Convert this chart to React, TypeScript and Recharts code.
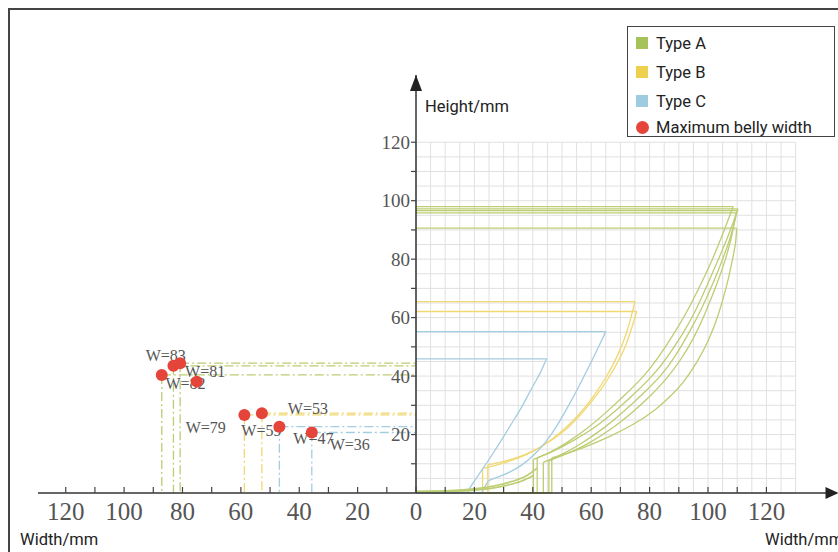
import { ComposedChart, Line, Scatter, XAxis, YAxis, ReferenceLine, ReferenceDot } from "recharts"

// vessel profiles (x = half width mm, y = height mm)
const typeA1 = [
  { x: 0, y: 0 }, { x: 40.2, y: 0 }, { x: 40.2, y: 11.5 }, { x: 46, y: 14 }, { x: 52, y: 17.5 },
  { x: 58.4, y: 22 }, { x: 65, y: 27.5 }, { x: 71.5, y: 33.5 }, { x: 77.9, y: 40 }, { x: 83, y: 46.5 },
  { x: 88, y: 54 }, { x: 93, y: 62.5 }, { x: 97.8, y: 72 }, { x: 101.5, y: 80 }, { x: 105, y: 88.5 },
  { x: 108.6, y: 98 }, { x: 0, y: 98 },
]
const typeA2 = [
  { x: 0, y: 0 }, { x: 41.5, y: 0 }, { x: 41.5, y: 12 }, { x: 47, y: 14.3 }, { x: 54, y: 18 },
  { x: 61.9, y: 23 }, { x: 68.5, y: 28.3 }, { x: 75, y: 34.2 }, { x: 81.3, y: 40.6 }, { x: 86, y: 46.5 },
  { x: 91, y: 54 }, { x: 95.5, y: 62 }, { x: 100.1, y: 72 }, { x: 103.8, y: 80.5 }, { x: 107.2, y: 88.8 },
  { x: 110.3, y: 97.2 }, { x: 0, y: 97.2 },
]
const typeA3 = [
  { x: 0, y: 0 }, { x: 43.6, y: 0 }, { x: 43.6, y: 10.5 }, { x: 49, y: 12.8 }, { x: 56, y: 16.6 },
  { x: 64.2, y: 22.2 }, { x: 71, y: 27.8 }, { x: 77.5, y: 33.8 }, { x: 83.6, y: 40 }, { x: 88.5, y: 46.5 },
  { x: 93, y: 54 }, { x: 97.5, y: 62.5 }, { x: 101.8, y: 72 }, { x: 105, y: 80 }, { x: 107.8, y: 88 },
  { x: 110, y: 96.6 }, { x: 0, y: 96.6 },
]
const typeA4 = [
  { x: 0, y: 0 }, { x: 45.5, y: 0 }, { x: 45.5, y: 11 }, { x: 51, y: 13.2 }, { x: 59, y: 17 },
  { x: 67.6, y: 22.5 }, { x: 74, y: 27.5 }, { x: 80.5, y: 33.5 }, { x: 85.8, y: 39.2 }, { x: 90.5, y: 45.5 },
  { x: 95, y: 53 }, { x: 99, y: 61.5 }, { x: 103, y: 71.5 }, { x: 105.8, y: 79.5 }, { x: 108, y: 87.5 },
  { x: 109.6, y: 95.8 }, { x: 0, y: 95.8 },
]
const typeA5 = [
  { x: 0, y: 0 }, { x: 46.5, y: 0 }, { x: 46.5, y: 12 }, { x: 51, y: 13.3 }, { x: 58, y: 15.8 },
  { x: 66, y: 19.2 }, { x: 74.4, y: 23.5 }, { x: 82, y: 28.6 }, { x: 87.5, y: 33.5 }, { x: 91.6, y: 38 },
  { x: 96, y: 44.5 }, { x: 100, y: 52 }, { x: 103.5, y: 61 }, { x: 106.4, y: 71 }, { x: 108.3, y: 79.5 },
  { x: 109.4, y: 85.5 }, { x: 109.8, y: 90.6 }, { x: 0, y: 90.6 },
]
const baseA1 = [
  { x: 0, y: 0.4 }, { x: 10, y: 0.5 }, { x: 18, y: 0.8 }, { x: 25, y: 1.5 }, { x: 31, y: 2.6 },
  { x: 36, y: 4 }, { x: 40.2, y: 6 },
]
const baseA2 = [
  { x: 0, y: 0.6 }, { x: 12, y: 0.8 }, { x: 20, y: 1.4 }, { x: 27, y: 2.5 }, { x: 33, y: 4 },
  { x: 38, y: 6 }, { x: 41.5, y: 8.5 },
]
const typeB1 = [
  { x: 0, y: 0 }, { x: 22.8, y: 0 }, { x: 22.8, y: 8.4 }, { x: 27, y: 9.4 }, { x: 32, y: 10.9 },
  { x: 37.9, y: 13.2 }, { x: 44, y: 16.6 }, { x: 49.3, y: 20.6 }, { x: 55, y: 26 }, { x: 60.7, y: 33 },
  { x: 65, y: 39.5 }, { x: 69, y: 47 }, { x: 72.3, y: 55.5 }, { x: 75, y: 65.5 }, { x: 0, y: 65.5 },
]
const typeB2 = [
  { x: 0, y: 0 }, { x: 24.6, y: 0 }, { x: 24.6, y: 9.6 }, { x: 30, y: 10.8 }, { x: 35, y: 12.3 },
  { x: 40.2, y: 14.4 }, { x: 46, y: 17.8 }, { x: 51.6, y: 22 }, { x: 57, y: 27.5 }, { x: 63, y: 35 },
  { x: 67.5, y: 42 }, { x: 71.8, y: 50.5 }, { x: 75.6, y: 62.1 }, { x: 0, y: 62.1 },
]
const typeC1 = [
  { x: 0, y: 0 }, { x: 17.5, y: 0 }, { x: 19, y: 2.6 }, { x: 20.8, y: 5.3 }, { x: 23, y: 8.5 },
  { x: 26, y: 13 }, { x: 29.5, y: 18.5 }, { x: 33, y: 24.2 }, { x: 36.5, y: 30 }, { x: 40, y: 36.5 },
  { x: 42.5, y: 41 }, { x: 44.7, y: 45.9 }, { x: 0, y: 45.9 },
]
const typeC2 = [
  { x: 0, y: 0 }, { x: 22.5, y: 0 }, { x: 23.5, y: 2 }, { x: 24.8, y: 4.2 }, { x: 28, y: 5.4 },
  { x: 32.2, y: 7.2 }, { x: 36.5, y: 9.8 }, { x: 40.5, y: 13.2 }, { x: 44.5, y: 17.6 }, { x: 48, y: 22.6 },
  { x: 51.6, y: 28.8 }, { x: 55, y: 35 }, { x: 58.5, y: 41.8 }, { x: 61.8, y: 48.5 }, { x: 65, y: 55.2 },
  { x: 0, y: 55.2 },
]

// maximum belly width points, left (mirrored) side
const bellyPoints = [
  { x: 87.1, y: 40.4, label: "W=83", type: "A", guide: true },
  { x: 83.1, y: 43.5, label: "W=82", type: "A", guide: true },
  { x: 80.8, y: 44.4, label: "W=81", type: "A", guide: true },
  { x: 75.1, y: 38.1, label: "W=79", type: "A", guide: false },
  { x: 58.8, y: 26.7, label: "W=59", type: "B", guide: true },
  { x: 52.8, y: 27.3, label: "W=53", type: "B", guide: true },
  { x: 46.8, y: 22.7, label: "W=47", type: "C", guide: true },
  { x: 35.7, y: 20.7, label: "W=36", type: "C", guide: true },
]
const labelShift: Record<string, [number, number]> = {
  "W=83": [4, -20], "W=82": [12, 18], "W=81": [25, 8], "W=79": [9, 46],
  "W=59": [17, 15], "W=53": [46, -5], "W=47": [34, 12], "W=36": [38, 12],
}

const rightTicks = [0, 10, 20, 30, 40, 50, 60, 70, 80, 90, 100, 110, 120]
const leftTicks = [10, 20, 30, 40, 50, 60, 70, 80, 90, 100, 110, 120]
const heightTicks = [10, 20, 30, 40, 50, 60, 70, 80, 90, 100, 110, 120]

const legendItems = [
  { name: "Type A", type: "A" },
  { name: "Type B", type: "B" },
  { name: "Type C", type: "C" },
]

const lineColor: Record<string, string> = { A: "#bccd72", B: "#f0d873", C: "#a3cde0" }
const swatch: Record<string, string> = { A: "#a6c35a", B: "#efd04e", C: "#9ecbe0" }
const RED = "#e5443b"

// bodyFrom: index where the smooth wall starts (after base / foot)
const profiles = [
  { key: "a1", type: "A", pts: typeA1, bodyFrom: 2 }, { key: "a2", type: "A", pts: typeA2, bodyFrom: 2 },
  { key: "a3", type: "A", pts: typeA3, bodyFrom: 2 }, { key: "a4", type: "A", pts: typeA4, bodyFrom: 2 },
  { key: "a5", type: "A", pts: typeA5, bodyFrom: 2 }, { key: "b1", type: "B", pts: typeB1, bodyFrom: 2 },
  { key: "b2", type: "B", pts: typeB2, bodyFrom: 2 }, { key: "c1", type: "C", pts: typeC1, bodyFrom: 1 },
  { key: "c2", type: "C", pts: typeC2, bodyFrom: 3 },
]
const bases = [
  { key: "ba1", type: "A", pts: baseA1 },
  { key: "ba2", type: "A", pts: baseA2 },
]

const serif = "'Liberation Serif', 'DejaVu Serif', serif"
const sans = "Roboto, 'Noto Sans', sans-serif"
const gridXs = Array.from({ length: 27 }, (_, i) => i * 5)
const gridYs = Array.from({ length: 25 }, (_, i) => i * 5)

const X_MAX = 144
const Y_MAX = 143
const chartMargin = { top: 75, bottom: 19 }

function BottomTick(props: any) {
  const { x, y, payload } = props
  const v = payload.value
  return (
    <g>
      <line x1={x} x2={x} y1={y} y2={y - 6} stroke="#444" strokeWidth={1.2} />
      {v % 20 === 0 && (
        <text x={x} y={y + 27} textAnchor="middle" fontFamily={serif} fontSize={25} fill="#555">
          {v}
        </text>
      )}
    </g>
  )
}

const arrowRight = (p: any) => (
  <path d={`M${p.cx + 2},${p.cy} L${p.cx - 11},${p.cy - 6} L${p.cx - 11},${p.cy + 6} Z`} fill="#222" />
)
const arrowUp = (p: any) => (
  <path d={`M${p.cx},${p.cy} L${p.cx - 6},${p.cy + 16} L${p.cx + 6},${p.cy + 16} Z`} fill="#222" />
)

export default function App() {
  return (
    <div style={{ position: "absolute", left: 0, top: 0, width: 838, height: 552, background: "#fff", overflow: "hidden" }}>
      <div style={{ position: "absolute", left: 8, top: 8, width: 840, height: 560, borderTop: "2.5px solid #444", borderLeft: "2.5px solid #444" }} />

      {/* left mirrored side: belly width points */}
      <div style={{ position: "absolute", left: 0, top: 0 }}>
        <ComposedChart width={420} height={552} margin={{ ...chartMargin, left: 38, right: 4 }}>
          <XAxis
            type="number"
            dataKey="x"
            domain={[0, 129.5]}
            reversed
            ticks={leftTicks}
            interval={0}
            height={40}
            tickSize={0}
            tickMargin={0}
            tick={<BottomTick />}
            axisLine={{ stroke: "#333", strokeWidth: 1.5 }}
          />
          <YAxis type="number" dataKey="y" domain={[0, Y_MAX]} hide />
          {bellyPoints.filter((d) => d.guide).map((d) => (
            <ReferenceLine key={"v" + d.label} segment={[{ x: d.x, y: d.y }, { x: d.x, y: 0 }]}
              stroke={lineColor[d.type]} strokeWidth={1.3} strokeDasharray="9 3 2 3" />
          ))}
          {bellyPoints.filter((d) => d.guide).map((d) => (
            <ReferenceLine key={"h" + d.label} segment={[{ x: d.x, y: d.y }, { x: 0, y: d.y }]}
              stroke={lineColor[d.type]} strokeWidth={1.3} strokeDasharray="9 3 2 3" />
          ))}
          <Scatter
            data={bellyPoints}
            isAnimationActive={false}
            shape={(p: any) => {
              const s = labelShift[p.payload.label] || [0, 0]
              return (
                <text x={p.cx + s[0]} y={p.cy + s[1]} dy="0.35em" textAnchor="middle" fontFamily={serif} fontSize={16} fill="#555">
                  {p.payload.label}
                </text>
              )
            }}
          />
          <Scatter
            data={bellyPoints}
            isAnimationActive={false}
            shape={(p: any) => <circle cx={p.cx} cy={p.cy} r={6} fill={RED} />}
          />
        </ComposedChart>
      </div>

      {/* right side: grid + profiles */}
      <div style={{ position: "absolute", left: 356, top: 0 }}>
        <ComposedChart width={482} height={552} margin={{ ...chartMargin, left: 0, right: 1.5 }}>
          <XAxis
            type="number"
            dataKey="x"
            domain={[0, X_MAX]}
            ticks={rightTicks}
            interval={0}
            height={40}
            tickSize={0}
            tickMargin={0}
            tick={<BottomTick />}
            axisLine={{ stroke: "#333", strokeWidth: 1.5 }}
          />
          <YAxis
            type="number"
            dataKey="y"
            domain={[0, Y_MAX]}
            ticks={heightTicks}
            interval={0}
            width={60}
            tickSize={5}
            tickMargin={1}
            tickFormatter={(v: number) => (v % 20 === 0 ? String(v) : "")}
            tick={{ fontFamily: serif, fontSize: 19, fill: "#555" }}
            tickLine={{ stroke: "#444", strokeWidth: 1.2 }}
            axisLine={{ stroke: "#333", strokeWidth: 1.5 }}
          />
          {gridXs.map((g) => (
            <ReferenceLine key={"gx" + g} segment={[{ x: g, y: 0 }, { x: g, y: 120 }]} stroke="#e0e0e0" strokeWidth={1} />
          ))}
          {gridYs.map((g) => (
            <ReferenceLine key={"gy" + g} segment={[{ x: 0, y: g }, { x: 130, y: g }]} stroke="#e0e0e0" strokeWidth={1} />
          ))}
          {profiles.map((p) => (
            <Line key={p.key + "base"} data={p.pts.slice(0, p.bodyFrom + 1)} dataKey="y" type="linear"
              stroke={lineColor[p.type]} strokeWidth={1.3} dot={false} activeDot={false} isAnimationActive={false} />
          ))}
          {profiles.map((p) => (
            <Line key={p.key + "wall"} data={p.pts.slice(p.bodyFrom, -1)} dataKey="y" type="natural"
              stroke={lineColor[p.type]} strokeWidth={1.3} dot={false} activeDot={false} isAnimationActive={false} />
          ))}
          {profiles.map((p) => (
            <Line key={p.key + "rim"} data={p.pts.slice(-2)} dataKey="y" type="linear"
              stroke={lineColor[p.type]} strokeWidth={1.3} dot={false} activeDot={false} isAnimationActive={false} />
          ))}
          {bases.map((b) => (
            <Line key={b.key} data={b.pts} dataKey="y" type="monotone"
              stroke={lineColor[b.type]} strokeWidth={1.6} dot={false} activeDot={false} isAnimationActive={false} />
          ))}
          <ReferenceDot x={X_MAX} y={0} shape={arrowRight} />
          <ReferenceDot x={0} y={Y_MAX} shape={arrowUp} />
        </ComposedChart>
      </div>

      <div style={{ position: "absolute", left: 425, top: 97, fontFamily: sans, fontSize: 16.5, lineHeight: "20px", color: "#222" }}>
        Height/mm
      </div>
      <div style={{ position: "absolute", left: 20, top: 530, fontFamily: sans, fontSize: 16.5, lineHeight: "20px", color: "#222" }}>
        Width/mm
      </div>
      <div style={{ position: "absolute", left: 765, top: 530, fontFamily: sans, fontSize: 16.5, lineHeight: "20px", color: "#222", whiteSpace: "nowrap" }}>
        Width/mm
      </div>

      <div style={{ position: "absolute", left: 627, top: 26, width: 208, height: 111, boxSizing: "border-box", border: "1.5px solid #444", background: "#fff", fontFamily: sans, fontSize: 16.5, color: "#222" }}>
        {legendItems.map((it, i) => (
          <div key={it.name} style={{ position: "absolute", left: 8, top: 6 + i * 29, height: 20, display: "flex", alignItems: "center" }}>
            <span style={{ width: 12, height: 12, background: swatch[it.type], marginRight: 8 }} />
            {it.name}
          </div>
        ))}
        <div style={{ position: "absolute", left: 8, top: 90, height: 20, display: "flex", alignItems: "center" }}>
          <span style={{ width: 13, height: 13, borderRadius: "50%", background: RED, marginRight: 7 }} />
          Maximum belly width
        </div>
      </div>
    </div>
  )
}
